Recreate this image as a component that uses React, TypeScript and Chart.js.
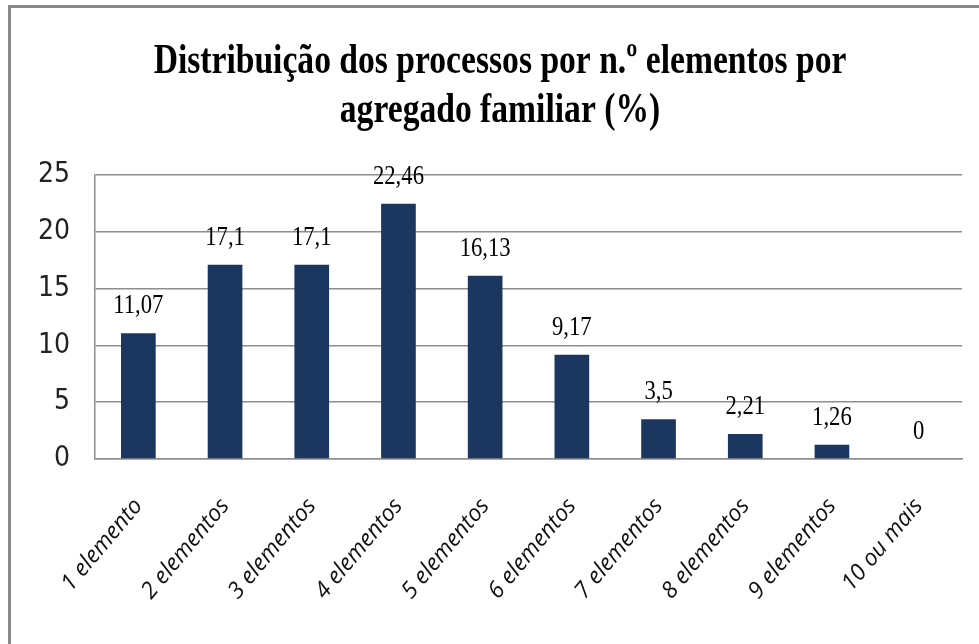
import React, { useEffect, useRef } from "react";
import { Chart, registerables } from "chart.js";

Chart.register(...registerables);

const titleLines = ["Distribuição dos processos por n.º elementos por", "agregado familiar (%)"];
const categories = [
  "1 elemento",
  "2 elementos",
  "3 elementos",
  "4 elementos",
  "5 elementos",
  "6 elementos",
  "7 elementos",
  "8 elementos",
  "9 elementos",
  "10 ou mais",
];
const values = [11.07, 17.1, 17.1, 22.46, 16.13, 9.17, 3.5, 2.21, 1.26, 0];
const valueLabels = ["11,07", "17,1", "17,1", "22,46", "16,13", "9,17", "3,5", "2,21", "1,26", "0"];
const yMin = 0;
const yMax = 25;
const yStep = 5;

const BAR_COLOR = "#1b375f";
const GRID_COLOR = "#8e8e8e";

function drawSqueezed(ctx: CanvasRenderingContext2D, text: string, x: number, y: number, sx: number) {
  ctx.save();
  ctx.translate(x, y);
  ctx.scale(sx, 1);
  ctx.fillText(text, 0, 0);
  ctx.restore();
}

const framePlugin = {
  id: "frame",
  beforeDraw(chart: any) {
    const ctx = chart.ctx as CanvasRenderingContext2D;
    ctx.save();
    ctx.fillStyle = "#ffffff";
    ctx.fillRect(0, 0, chart.width, chart.height);
    ctx.strokeStyle = "#8a8a8a";
    ctx.lineWidth = 3;
    ctx.beginPath();
    ctx.moveTo(9.5, chart.height);
    ctx.lineTo(9.5, 6.5);
    ctx.lineTo(chart.width, 6.5);
    ctx.stroke();
    ctx.restore();
  },
};

const titlePlugin = {
  id: "squeezedTitle",
  afterDraw(chart: any) {
    const ctx = chart.ctx as CanvasRenderingContext2D;
    ctx.save();
    ctx.fillStyle = "#000000";
    ctx.font = "bold 42px 'Liberation Serif', 'Times New Roman', serif";
    ctx.textAlign = "center";
    ctx.textBaseline = "alphabetic";
    const cx = 500;
    drawSqueezed(ctx, titleLines[0], cx, 73, 0.8);
    drawSqueezed(ctx, titleLines[1], cx, 122, 0.8);
    ctx.restore();
  },
};

const valueLabelPlugin = {
  id: "valueLabels",
  afterDatasetsDraw(chart: any) {
    const ctx = chart.ctx as CanvasRenderingContext2D;
    const meta = chart.getDatasetMeta(0);
    ctx.save();
    ctx.fillStyle = "#000000";
    ctx.font = "28px 'Liberation Serif', 'Times New Roman', serif";
    ctx.textAlign = "center";
    ctx.textBaseline = "alphabetic";
    meta.data.forEach((bar: any, i: number) => {
      drawSqueezed(ctx, valueLabels[i], bar.x, bar.y - 20, 0.81);
    });
    ctx.restore();
  },
};

export default function App() {
  const canvasRef = useRef<HTMLCanvasElement | null>(null);

  useEffect(() => {
    const canvas = canvasRef.current;
    if (!canvas) return;
    const chart = new Chart(canvas, {
      type: "bar",
      data: {
        labels: categories,
        datasets: [
          {
            data: values,
            backgroundColor: BAR_COLOR,
            borderWidth: 0,
            barPercentage: 0.4,
            categoryPercentage: 1,
          },
        ],
      },
      options: {
        animation: false,
        responsive: false,
        maintainAspectRatio: false,
        devicePixelRatio: 1,
        layout: { padding: { top: 175, right: 17, left: 0, bottom: 0 } },
        plugins: {
          legend: { display: false },
          title: { display: false },
          tooltip: { enabled: false },
        },
        scales: {
          x: {
            grid: { display: false, drawTicks: false },
            border: { display: true, color: GRID_COLOR, width: 1.5 },
            ticks: {
              maxRotation: 50,
              minRotation: 50,
              padding: 34,
              color: "#111111",
              font: { family: "'Open Sans', sans-serif", size: 23, style: "italic" },
            },
            afterFit(scale: any) {
              scale.height = 185;
            },
          },
          y: {
            min: yMin,
            max: yMax,
            grid: { color: GRID_COLOR, lineWidth: 1.5, drawTicks: false },
            border: { display: true, color: GRID_COLOR, width: 1.5 },
            ticks: {
              stepSize: yStep,
              padding: 25,
              color: "#222222",
              font: { family: "'Liberation Sans Narrow', 'DejaVu Sans Condensed', sans-serif", size: 28 },
            },
            afterFit(scale: any) {
              scale.width = 95;
            },
          },
        },
      },
      plugins: [framePlugin, valueLabelPlugin, titlePlugin],
    });
    return () => chart.destroy();
  }, []);

  return (
    <div style={{ position: "fixed", left: 0, top: 0, width: 979, height: 644, background: "#fff" }}>
      <canvas ref={canvasRef} width={979} height={644} style={{ width: 979, height: 644, display: "block" }} />
    </div>
  );
}
